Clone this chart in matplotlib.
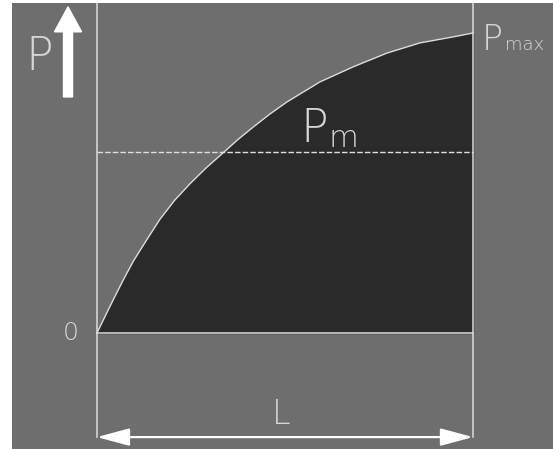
import matplotlib
matplotlib.use('Agg')
import matplotlib.pyplot as plt
import numpy as np

# curve (x as fraction of L, P as fraction of Pmax)
x_pos = [0.0, 0.021, 0.043, 0.070, 0.097, 0.132, 0.168, 0.207, 0.247,
         0.290, 0.335, 0.375, 0.415, 0.460, 0.505, 0.593, 0.681, 0.771,
         0.859, 0.947, 1.0]
p_val = [0.0, 0.054, 0.110, 0.177, 0.240, 0.310, 0.380, 0.443, 0.497,
         0.550, 0.600, 0.645, 0.686, 0.730, 0.770, 0.837, 0.887, 0.933,
         0.967, 0.987, 1.0]
p_mean = 0.603
length_label = 'L'

bg = '#6e6e6e'
dark = '#2a2a2a'
line_c = '#dedede'
txt_c = '#d6d6d6'

fig = plt.figure(figsize=(5.53, 4.49), dpi=100)
fig.patch.set_facecolor('white')
ax = fig.add_axes([12 / 553, 0, 541 / 553, 446 / 449])
ax.set_facecolor(bg)
ax.set_xlim(-0.226, 1.2128)
ax.set_ylim(-0.3867, 1.10)
ax.axis('off')
ax.add_patch(plt.Rectangle((-0.226, -0.3867), 1.4388, 1.4867,
                           facecolor=bg, edgecolor='none', zorder=0))

# filled area under curve
ax.fill_between(x_pos, 0, p_val, color=dark, zorder=1)
ax.plot(x_pos, p_val, color=line_c, lw=1.0, zorder=3)

# frame lines
ax.plot([0, 0], [-0.347, 1.10], color=line_c, lw=1.1, zorder=3)
ax.plot([1, 1], [-0.347, 1.10], color=line_c, lw=1.1, zorder=3)
ax.plot([0, 1], [0, 0], color=line_c, lw=1.1, zorder=3)

# mean line
ax.plot([0, 1], [p_mean, p_mean], color=line_c, lw=1.0,
        dashes=(4, 1.5), zorder=3)

# up arrow (P axis)
ax.arrow(-0.077, 0.787, 0, 0.30, width=0.024, head_width=0.072,
         head_length=0.083, length_includes_head=True,
         color='white', zorder=4)

# double arrow for L
ax.annotate('', xy=(0, -0.347), xytext=(1, -0.347),
            arrowprops=dict(arrowstyle='<|-|>,head_length=1.0,head_width=0.27',
                            mutation_scale=20, lw=1.6, color='white',
                            shrinkA=0, shrinkB=0), zorder=4)

# labels
ax.text(-0.154, 0.92, 'P', color=txt_c, fontsize=33, fontweight='light',
        ha='center', va='center')
ax.text(-0.069, 0.0, '0', color=txt_c, fontsize=18, fontweight='light',
        ha='center', va='center')
ax.text(0.49, -0.273, length_label, color=txt_c, fontsize=24,
        fontweight='light', ha='center', va='center')
ax.text(0.614, 0.637, 'P', color=txt_c, fontsize=33, fontweight='light',
        ha='right', va='baseline', zorder=5)
ax.text(0.617, 0.62, 'm', color=txt_c, fontsize=22, fontweight='light',
        ha='left', va='baseline', zorder=5)
ax.text(1.080, 0.943, 'P', color=txt_c, fontsize=25, fontweight='light',
        ha='right', va='baseline')
ax.text(1.084, 0.943, 'max', color=txt_c, fontsize=13, fontweight='light',
        ha='left', va='baseline')

fig.savefig('out.png', dpi=100, facecolor='white')
plt.close(fig)
